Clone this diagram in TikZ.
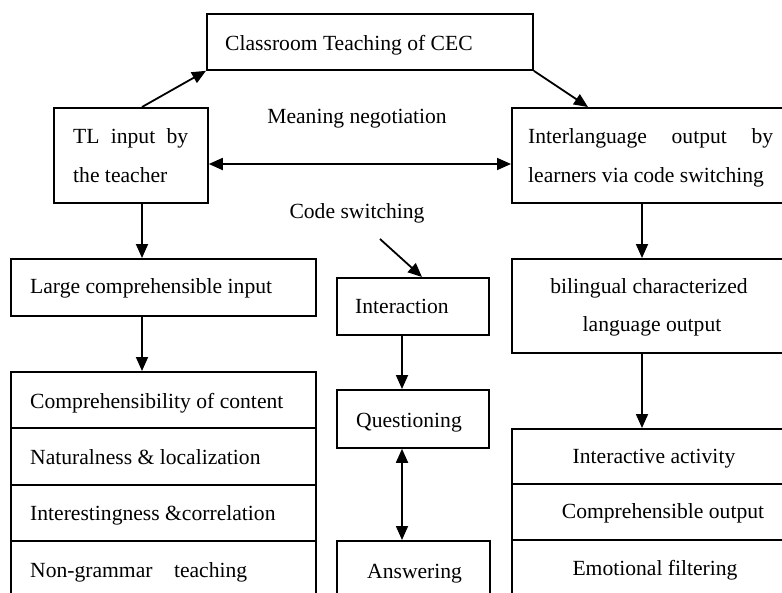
\documentclass[tikz,border=0pt]{standalone}
\usepackage{fontspec}
\setmainfont{Liberation Serif}
\usetikzlibrary{arrows.meta}
\tikzset{
  box/.style={draw, line width=1.8pt, anchor=north west, inner sep=0pt},
  txt/.style={inner sep=0pt, font=\fontsize{21.6}{26}\selectfont},
  lt/.style={txt, anchor=base west},
  ct/.style={txt, anchor=base},
  arr/.style={line width=1.8pt, -{Triangle[length=14pt,width=12pt]}},
  darr/.style={line width=1.8pt, {Triangle[length=14pt,width=12pt]}-{Triangle[length=14pt,width=12pt]}},
  rule/.style={line width=1.8pt}
}
\begin{document}
\begin{tikzpicture}[x=1pt,y=-1pt]
\useasboundingbox (0,0) rectangle (782,592);
\clip (0,0) rectangle (782,592);
% boxes
\node[box, minimum width=326pt, minimum height=56pt] (ctop) at (206,13) {};
\node[box, minimum width=154pt, minimum height=95pt] (tl) at (53,107) {};
\node[box, minimum width=300pt, minimum height=95pt] (il) at (511,107) {};
\node[box, minimum width=305pt, minimum height=57pt] (large) at (10,258) {};
\node[box, minimum width=305pt, minimum height=260pt] (llist) at (10,371) {};
\node[box, minimum width=152pt, minimum height=57pt] (inter) at (336,277) {};
\node[box, minimum width=152pt, minimum height=58pt] (quest) at (336,389) {};
\node[box, minimum width=153pt, minimum height=80pt] (ans) at (336,540) {};
\node[box, minimum width=300pt, minimum height=94pt] (bil) at (511,258) {};
\node[box, minimum width=300pt, minimum height=200pt] (rlist) at (511,428) {};
% row rules
\coordinate (r1) at (0,428);
\coordinate (r2) at (0,485);
\coordinate (r3) at (0,541);
\coordinate (s1) at (0,484);
\coordinate (s2) at (0,540);
\draw[rule] (llist.west |- r1) -- (llist.east |- r1);
\draw[rule] (llist.west |- r2) -- (llist.east |- r2);
\draw[rule] (llist.west |- r3) -- (llist.east |- r3);
\draw[rule] (rlist.west |- s1) -- (rlist.east |- s1);
\draw[rule] (rlist.west |- s2) -- (rlist.east |- s2);
% texts
\node[lt] (tctop) at (225,50) {Classroom Teaching of CEC};
\node[lt] (ttl1) at (73,143) {\hbox to 115pt{TL\hfil input\hfil by}};
\node[lt] (ttl2) at (73,182) {the teacher};
\node[lt] (til1) at (528,143) {\hbox to 245pt{Interlanguage\hfil output\hfil by}};
\node[lt] (til2) at (528,182) {learners via code switching};
\node[ct] (tmn) at (357,123) {Meaning negotiation};
\node[ct] (tcs) at (357,218) {Code switching};
\node[lt] (tlarge) at (30,293) {Large comprehensible input};
\node[lt] (tl1) at (30,408) {Comprehensibility of content};
\node[lt] (tl2) at (30,464) {Naturalness \& localization};
\node[lt] (tl3) at (30,520) {Interestingness \&correlation};
\node[lt] (tl4) at (30,577) {\hbox to 217pt{Non-grammar\hfil teaching}};
\node[lt] (tinter) at (355,313) {Interaction};
\node[lt] (tquest) at (356,427) {Questioning};
\node[lt] (tans) at (367,578) {Answering};
\node[ct] (tbil1) at (649,293) {bilingual characterized};
\node[ct] (tbil2) at (652,331) {language output};
\node[ct] (tr1) at (654,463) {Interactive activity};
\node[ct] (tr2) at (663,518) {Comprehensible output};
\node[ct] (tr3) at (655,575) {Emotional filtering};
% connector coordinates
\coordinate (lx) at (142,0);
\coordinate (rx) at (642,0);
\coordinate (mx) at (402,0);
\coordinate (hy) at (0,164);
\coordinate (ilx) at (588,0);
\coordinate (csA) at (380,239);
\coordinate (csx) at (422,0);
% connectors
\draw[arr] (lx |- tl.north) -- (ctop.south west);
\draw[arr] (ctop.south east) -- (ilx |- il.north);
\draw[darr] (tl.east |- hy) -- (il.west |- hy);
\draw[arr] (lx |- tl.south) -- (lx |- large.north);
\draw[arr] (lx |- large.south) -- (lx |- llist.north);
\draw[arr] (csA) -- (csx |- inter.north);
\draw[arr] (mx |- inter.south) -- (mx |- quest.north);
\draw[darr] (mx |- quest.south) -- (mx |- ans.north);
\draw[arr] (rx |- il.south) -- (rx |- bil.north);
\draw[arr] (rx |- bil.south) -- (rx |- rlist.north);
\end{tikzpicture}
\end{document}
